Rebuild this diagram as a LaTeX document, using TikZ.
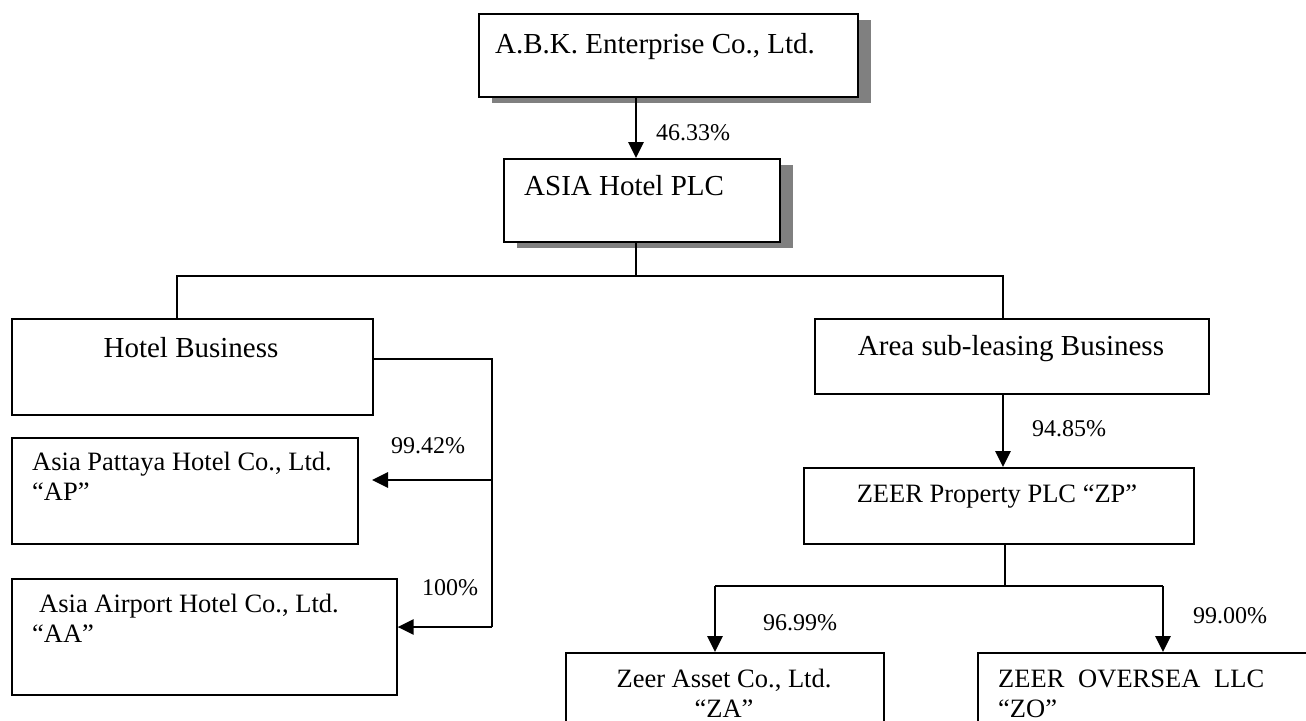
\documentclass[tikz,border=0pt]{standalone}
\usepackage{fontspec}
\setmainfont{Liberation Serif}
\usetikzlibrary{arrows.meta,shadows}
\begin{document}
\begin{tikzpicture}[x=1pt,y=-1pt,
 box/.style={draw,line width=1.6pt,rectangle,anchor=north west,inner sep=0pt,fill=white},
 shbox/.style={box,drop shadow={shadow xshift=13pt,shadow yshift=-6pt,fill=black!50,opacity=1}},
 txt/.style={anchor=base west,inner sep=0pt,font=\fontsize{26.5}{30}\selectfont},
 bigtxt/.style={txt,font=\fontsize{29}{30}\selectfont},
 pct/.style={anchor=base west,inner sep=0pt,font=\fontsize{24}{26}\selectfont},
 conn/.style={line width=1.6pt},
 arr/.style={line width=2.7pt,-{Triangle[length=16pt,width=15pt]}},
]
\useasboundingbox (0,0) rectangle (1306,720);
\clip (0,0) rectangle (1306,720);

% boxes
\node[shbox,minimum width=379pt,minimum height=83pt] (abk) at (478,13) {};
\node[shbox,minimum width=276pt,minimum height=83pt] (asia) at (503,158) {};
\node[box,minimum width=361pt,minimum height=96pt] (hotel) at (11,318) {};
\node[box,minimum width=394pt,minimum height=75pt] (area) at (814,318) {};
\node[box,minimum width=346pt,minimum height=106pt] (ap) at (11,437) {};
\node[box,minimum width=385pt,minimum height=116pt] (aa) at (11,578) {};
\node[box,minimum width=390pt,minimum height=76pt] (zp) at (803,467) {};
\node[box,minimum width=318pt,minimum height=120pt] (za) at (565,652) {};
\node[box,minimum width=360pt,minimum height=120pt] (zo) at (977,652) {};

% texts
\node[bigtxt] (tabk) at (495,53) {A.B.K. Enterprise Co., Ltd.};
\node[bigtxt] (tasia) at (524,195) {ASIA Hotel PLC};
\node[bigtxt,anchor=base] (thotel) at (191,357) {Hotel Business};
\node[bigtxt,anchor=base] (tarea) at (1011,355) {Area sub-leasing Business};
\node[txt,anchor=base] (tzp) at (997,502) {ZEER Property PLC “ZP”};
\node[txt] (tap1) at (32,470) {Asia Pattaya Hotel Co., Ltd.};
\node[txt] (tap2) at (32,500) {“AP”};
\node[txt] (taa1) at (39,612) {Asia Airport Hotel Co., Ltd.};
\node[txt] (taa2) at (32,642) {“AA”};
\node[txt,anchor=base] (tza1) at (724,687) {Zeer Asset Co., Ltd.};
\node[txt,anchor=base] (tza2) at (724,717) {“ZA”};
\node[txt] (tzo1) at (998,687) {ZEER\hspace{0.52em}OVERSEA\hspace{0.52em}LLC};
\node[txt] (tzo2) at (998,717) {“ZO”};

% percentages
\node[pct] (p1) at (656,140) {46.33\%};
\node[pct] (p2) at (1032,436) {94.85\%};
\node[pct] (p3) at (391,453) {99.42\%};
\node[pct] (p4) at (422,595) {100\%};
\node[pct] (p5) at (763,630) {96.99\%};
\node[pct] (p6) at (1193,623) {99.00\%};

% connector points
\coordinate (bus) at (636,276);
\coordinate (busL) at (177,276);
\coordinate (busR) at (1003,276);
\coordinate (hv) at (492,359);
\coordinate (hvb) at (492,627);
\coordinate (apt) at (372,480);
\coordinate (zbus) at (1005,586);
\coordinate (zl) at (715,586);
\coordinate (zr) at (1163,586);

% connectors
\draw[arr] (abk.south -| bus) -- (asia.north -| bus);
\draw[conn] (asia.south -| bus) -- (bus);
\draw[conn] (hotel.north -| busL) -- (busL) -- (busR) -- (area.north -| busR);
\draw[arr] (area.south -| busR) -- (zp.north -| busR);
\draw[conn] (hotel.north east |- hv) -- (hv) -- (hvb);
\draw[arr] (hv |- apt) -- (apt);
\draw[arr] (hvb) -- (aa.east |- hvb);
\draw[conn] (zp.south -| zbus) -- (zbus);
\draw[conn] (zl) -- (zr);
\draw[arr] (zl) -- (za.north -| zl);
\draw[arr] (zr) -- (zo.north -| zr);
\end{tikzpicture}
\end{document}
